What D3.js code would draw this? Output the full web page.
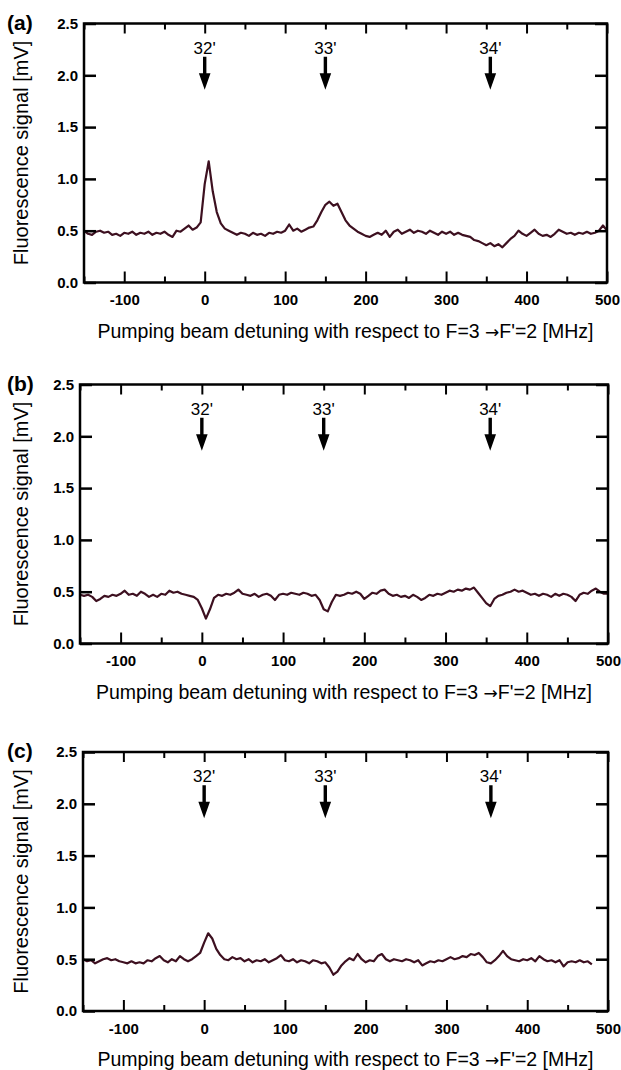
<!DOCTYPE html>
<html>
<head>
<meta charset="utf-8">
<script src="https://cdn.jsdelivr.net/npm/d3@7"></script>
<style>
  body { margin: 0; background: #fff; }
  svg text { font-family: "Liberation Sans", Arial, Helvetica, sans-serif; fill: #000; }
</style>
</head>
<body>
<div id="chart"></div>
<script>

// Fluorescence traces, one value every 5 MHz from -150 MHz
const detuningStart = -150;
const detuningStep = 5;

const signalA = [
  0.50, 0.47, 0.46, 0.49, 0.50, 0.48, 0.49, 0.46, 0.47, 0.45,
  0.48, 0.47, 0.49, 0.46, 0.48, 0.47, 0.49, 0.46, 0.48, 0.47,
  0.49, 0.46, 0.44, 0.50, 0.49, 0.52, 0.55, 0.51, 0.53, 0.58,
  0.95, 1.17, 0.88, 0.68, 0.57, 0.52, 0.50, 0.48, 0.46, 0.48,
  0.47, 0.45, 0.48, 0.46, 0.47, 0.45, 0.48, 0.47, 0.49, 0.48,
  0.50, 0.56, 0.50, 0.52, 0.49, 0.51, 0.53, 0.54, 0.60, 0.68,
  0.75, 0.78, 0.74, 0.76, 0.68, 0.60, 0.55, 0.52, 0.49, 0.47,
  0.45, 0.44, 0.46, 0.48, 0.46, 0.50, 0.44, 0.49, 0.51, 0.47,
  0.49, 0.51, 0.48, 0.50, 0.49, 0.47, 0.50, 0.48, 0.46, 0.49,
  0.47, 0.49, 0.46, 0.48, 0.46, 0.45, 0.44, 0.41, 0.40, 0.38,
  0.36, 0.38, 0.35, 0.37, 0.34, 0.38, 0.42, 0.45, 0.50, 0.47,
  0.45, 0.48, 0.51, 0.47, 0.45, 0.46, 0.44, 0.47, 0.51, 0.49,
  0.47, 0.48, 0.46, 0.48, 0.47, 0.49, 0.47, 0.48, 0.50, 0.55,
  0.50
];

const signalB = [
  0.47, 0.46, 0.47, 0.45, 0.41, 0.43, 0.46, 0.45, 0.47, 0.46,
  0.48, 0.51, 0.47, 0.48, 0.46, 0.50, 0.48, 0.45, 0.47, 0.45,
  0.48, 0.47, 0.51, 0.49, 0.50, 0.48, 0.47, 0.46, 0.45, 0.42,
  0.34, 0.24, 0.33, 0.44, 0.47, 0.46, 0.48, 0.47, 0.49, 0.52,
  0.48, 0.47, 0.46, 0.48, 0.45, 0.47, 0.48, 0.46, 0.42, 0.47,
  0.48, 0.47, 0.49, 0.48, 0.47, 0.49, 0.48, 0.46, 0.47, 0.42,
  0.33, 0.31, 0.40, 0.47, 0.46, 0.47, 0.49, 0.48, 0.50, 0.48,
  0.43, 0.46, 0.49, 0.48, 0.51, 0.52, 0.48, 0.46, 0.47, 0.45,
  0.46, 0.44, 0.47, 0.45, 0.42, 0.44, 0.47, 0.46, 0.48, 0.47,
  0.49, 0.51, 0.50, 0.52, 0.51, 0.53, 0.52, 0.54, 0.49, 0.44,
  0.39, 0.36, 0.43, 0.46, 0.47, 0.49, 0.50, 0.52, 0.50, 0.51,
  0.49, 0.47, 0.48, 0.46, 0.48, 0.47, 0.45, 0.48, 0.46, 0.48,
  0.47, 0.45, 0.41, 0.47, 0.49, 0.48, 0.51, 0.53, 0.50, 0.48,
  0.48
];

// trace (c) stops at 480 MHz
const signalC = [
  0.50, 0.48, 0.49, 0.46, 0.48, 0.50, 0.51, 0.49, 0.50, 0.48,
  0.47, 0.46, 0.48, 0.46, 0.47, 0.46, 0.49, 0.48, 0.51, 0.53,
  0.49, 0.47, 0.50, 0.48, 0.53, 0.50, 0.48, 0.50, 0.53, 0.56,
  0.66, 0.75, 0.70, 0.60, 0.54, 0.50, 0.49, 0.52, 0.50, 0.51,
  0.48, 0.50, 0.47, 0.49, 0.48, 0.50, 0.47, 0.49, 0.51, 0.54,
  0.49, 0.48, 0.50, 0.47, 0.49, 0.48, 0.46, 0.49, 0.48, 0.46,
  0.47, 0.42, 0.35, 0.38, 0.44, 0.48, 0.51, 0.49, 0.55, 0.50,
  0.47, 0.49, 0.48, 0.53, 0.55, 0.50, 0.48, 0.50, 0.49, 0.48,
  0.50, 0.49, 0.47, 0.49, 0.44, 0.46, 0.48, 0.47, 0.49, 0.48,
  0.50, 0.52, 0.50, 0.51, 0.53, 0.52, 0.55, 0.54, 0.56, 0.52,
  0.47, 0.46, 0.49, 0.53, 0.58, 0.53, 0.50, 0.49, 0.48, 0.50,
  0.49, 0.51, 0.48, 0.53, 0.50, 0.48, 0.49, 0.47, 0.49, 0.43,
  0.47, 0.48, 0.47, 0.49, 0.47, 0.48, 0.45
];

// hyperfine transitions marked with arrows
const transitionLabels = ["32'", "33'", "34'"];
const transitionDetuning = [0, 150, 355];

// axis ticks
const xMajorTicks = [-100, 0, 100, 200, 300, 400, 500];
const xMinorTicks = [-150, -50, 50, 150, 250, 350, 450];
const yTicks = [0.0, 0.5, 1.0, 1.5, 2.0, 2.5];

const panelTags = ["(a)", "(b)", "(c)"];
const xTitleStart = "Pumping beam detuning with respect to F=3 ";
const xTitleArrow = "\u2192";
const xTitleEnd = "F'=2 [MHz]";
const yTitle = "Fluorescence signal [mV]";

// arrow geometry in signal units
const arrowTail = 2.18, arrowHeadBase = 2.02, arrowTip = 1.86, arrowText = 2.21;

const width = 621;
const height = 1070;
const plotHeight = 259;
const lineColor = "#3d1020";

// placement of the three stacked panels
const panels = [
  {tag: panelTags[0], values: signalA, top: 23.5, left: 84, right: 607},
  {tag: panelTags[1], values: signalB, top: 384.5, left: 80, right: 608},
  {tag: panelTags[2], values: signalC, top: 752, left: 83, right: 608}
];

const svg = d3.select("#chart")
  .append("svg")
  .attr("width", width)
  .attr("height", height);

panels.forEach(p => {
  const bottom = p.top + plotHeight;

  const x = d3.scaleLinear().domain([-150, 500]).range([p.left, p.right]);
  const y = d3.scaleLinear().domain([0, 2.5]).range([bottom, p.top]);

  const g = svg.append("g");

  // trace
  const line = d3.line()
    .x((d, i) => x(detuningStart + i * detuningStep))
    .y(d => y(d));

  g.append("path")
    .datum(p.values)
    .attr("fill", "none")
    .attr("stroke", lineColor)
    .attr("stroke-width", 2.2)
    .attr("stroke-linejoin", "round")
    .attr("d", line);

  // left axis with labels, ticks pointing inward
  g.append("g")
    .attr("transform", `translate(${p.left},0)`)
    .call(d3.axisLeft(y).tickValues(yTicks).tickSize(-12).tickPadding(6)
      .tickFormat(d3.format(".1f")))
    .call(a => a.select(".domain").remove())
    .call(a => a.selectAll("line").attr("stroke-width", 2.5))
    .call(a => a.selectAll("text").attr("font-size", 15).attr("font-weight", "bold"));

  // right axis, ticks only
  g.append("g")
    .attr("transform", `translate(${p.right},0)`)
    .call(d3.axisRight(y).tickValues(yTicks).tickSize(-12).tickFormat(""))
    .call(a => a.select(".domain").remove())
    .call(a => a.selectAll("line").attr("stroke-width", 2.5));

  // bottom axis: labelled major ticks and short minor ticks
  g.append("g")
    .attr("transform", `translate(0,${bottom})`)
    .call(d3.axisBottom(x).tickValues(xMajorTicks).tickSize(-11).tickPadding(12)
      .tickFormat(d => String(d)))
    .call(a => a.select(".domain").remove())
    .call(a => a.selectAll("line").attr("stroke-width", 2))
    .call(a => a.selectAll("text").attr("font-size", 15).attr("font-weight", "bold"));

  g.append("g")
    .attr("transform", `translate(0,${bottom})`)
    .call(d3.axisBottom(x).tickValues(xMinorTicks).tickSize(-6).tickFormat(""))
    .call(a => a.select(".domain").remove())
    .call(a => a.selectAll("line").attr("stroke-width", 2));

  // top axis
  g.append("g")
    .attr("transform", `translate(0,${p.top})`)
    .call(d3.axisTop(x).tickValues(xMajorTicks).tickSize(-10).tickFormat(""))
    .call(a => a.select(".domain").remove())
    .call(a => a.selectAll("line").attr("stroke-width", 2));

  g.append("g")
    .attr("transform", `translate(0,${p.top})`)
    .call(d3.axisTop(x).tickValues(xMinorTicks).tickSize(-6).tickFormat(""))
    .call(a => a.select(".domain").remove())
    .call(a => a.selectAll("line").attr("stroke-width", 2));

  // frame
  g.append("rect")
    .attr("x", p.left)
    .attr("y", p.top)
    .attr("width", p.right - p.left)
    .attr("height", plotHeight)
    .attr("fill", "none")
    .attr("stroke", "#000")
    .attr("stroke-width", 2.5);

  // transition arrows
  const marks = g.selectAll(".mark")
    .data(transitionDetuning)
    .enter()
    .append("g")
    .attr("class", "mark");

  marks.append("path")
    .attr("fill", "#000")
    .attr("d", d => {
      const cx = x(d);
      return `M${cx - 1.7},${y(arrowTail)} L${cx + 1.7},${y(arrowTail)}` +
             ` L${cx + 1.7},${y(arrowHeadBase)} L${cx + 5.8},${y(arrowHeadBase)}` +
             ` L${cx},${y(arrowTip)} L${cx - 5.8},${y(arrowHeadBase)}` +
             ` L${cx - 1.7},${y(arrowHeadBase)} Z`;
    });

  marks.append("text")
    .attr("x", d => x(d))
    .attr("y", y(arrowText))
    .attr("text-anchor", "middle")
    .attr("font-size", 17)
    .text((d, i) => transitionLabels[i]);

  // panel tag
  g.append("text")
    .attr("x", 7)
    .attr("y", p.top + 6)
    .attr("font-size", 21)
    .attr("font-weight", "bold")
    .text(p.tag);

  // axis titles
  const xt = g.append("text")
    .attr("x", (p.left + p.right) / 2)
    .attr("y", bottom + 55)
    .attr("text-anchor", "middle")
    .attr("font-size", 19.5);
  xt.append("tspan").text(xTitleStart);
  xt.append("tspan").attr("font-family", "DejaVu Sans").attr("font-size", 17).text(xTitleArrow);
  xt.append("tspan").text(xTitleEnd);

  g.append("text")
    .attr("transform", `translate(28,${p.top + plotHeight / 2}) rotate(-90)`)
    .attr("text-anchor", "middle")
    .attr("font-size", 20)
    .text(yTitle);
});

</script>
</body>
</html>
